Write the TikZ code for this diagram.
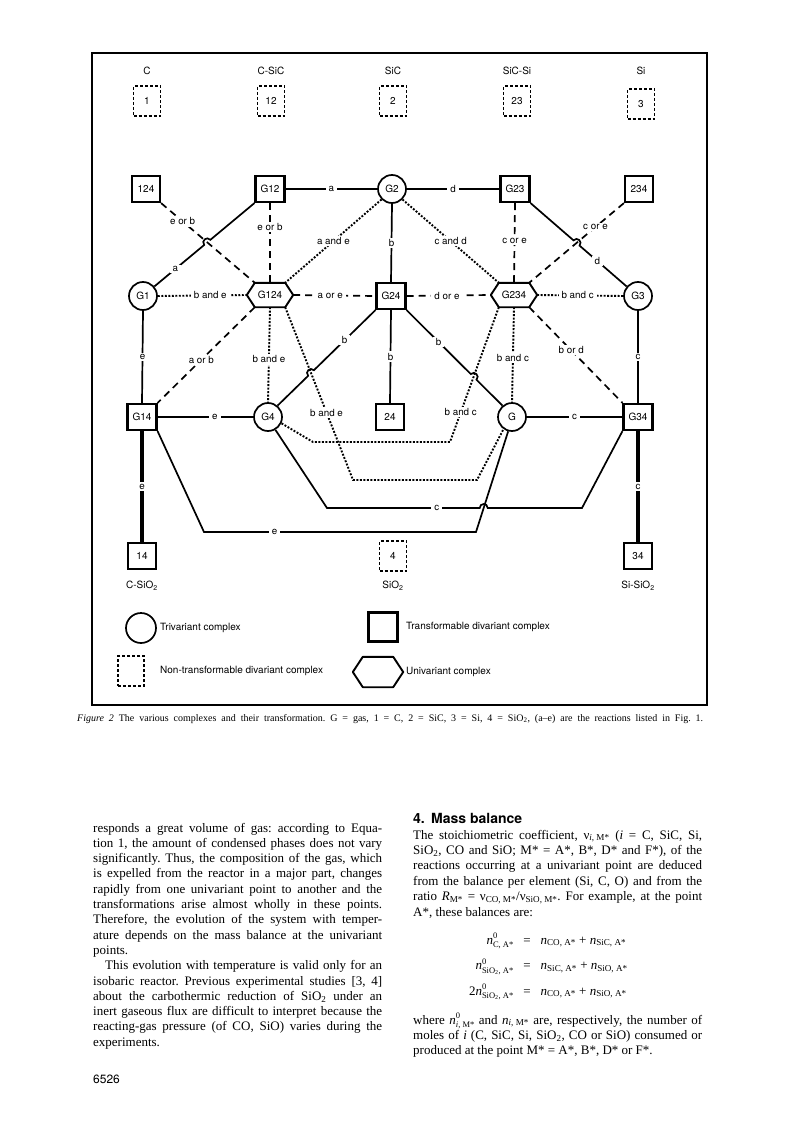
\documentclass[tikz,border=0pt]{standalone}
\usepackage{fontspec}
\setmainfont{Liberation Serif}
\setsansfont{TeX Gyre Heros}
\usetikzlibrary{calc}
\newcommand\justline[1]{\hbox to \hsize{#1}}
\newcommand\smallidx[1]{{\fontsize{8.5}{9}\selectfont #1}}
\newcommand\subsup[2]{\rlap{\raisebox{5.5pt}{\smallidx{#1}}}\raisebox{-3.8pt}{\smallidx{#2}}}
\newcommand\mkhop[5]{%
  \coordinate (#1a) at ($(#1)!4pt!(#2)$);
  \coordinate (#1b) at ($(#1)!4pt!(#3)$);
  \coordinate (#1ac) at ($(#1a)!5.3pt!#4:(#1)$);
  \coordinate (#1bc) at ($(#1b)!5.3pt!#5:(#1)$);}
\newcommand\hexdraw[2]{\draw[hexline] (#1.north west) -- (#1.north east) -- ($(#1.east)+(#2,0)$) -- (#1.south east) -- (#1.south west) -- ($(#1.west)+(-#2,0)$) -- cycle;}
\tikzset{
  dfont/.style={font=\sffamily\fontsize{10}{11}\selectfont},
  lbl/.style={font=\sffamily\fontsize{9.8}{10}\selectfont, fill=white, inner xsep=3pt, inner ysep=1.5pt},
  circ/.style={circle, draw, line width=1.7pt, minimum size=28pt, inner sep=0pt, dfont},
  tbox/.style={rectangle, draw, line width=2.2pt, minimum width=28pt, minimum height=26pt, inner xsep=5pt, dfont},
  ntbox/.style={rectangle, draw, line width=1.9pt, dash pattern=on 3pt off 2pt, minimum width=27pt, minimum height=30pt, dfont},
  hexn/.style={rectangle, minimum width=30pt, minimum height=24pt, inner sep=0pt, dfont},
  hexline/.style={line width=1.9pt, line join=round},
  ttl/.style={dfont},
  sline/.style={line width=1.7pt},
  dline/.style={line width=1.7pt, dash pattern=on 7pt off 5pt},
  oline/.style={line width=1.9pt, dash pattern=on 1.9pt off 1.6pt},
  tline/.style={line width=4pt},
  legtxt/.style={anchor=west, inner sep=0pt, dfont}
}
\begin{document}
\frenchspacing
\begin{tikzpicture}[x=1pt,y=-1pt]
\useasboundingbox (0,0) rectangle (796,1123);
\fill[white] (0,0) rectangle (796,1123);
\draw[line width=2pt] (92,53) rectangle (707,705);

% top row
\node[ttl] (tC) at (147,71) {C};
\node[ttl] (tCSiC) at (271,71) {C-SiC};
\node[ttl] (tSiC) at (393,71) {SiC};
\node[ttl] (tSiCSi) at (517,71) {SiC-Si};
\node[ttl] (tSi) at (641,71) {Si};
\node[ntbox] (n1) at (147,101) {1};
\node[ntbox] (n12) at (271,101) {12};
\node[ntbox] (n2) at (393,101) {2};
\node[ntbox] (n23) at (517,101) {23};
\node[ntbox] (n3) at (641,104) {3};

% row 2
\node[tbox] (b124) at (146,189) {124};
\node[tbox] (G12) at (270,189) {G12};
\node[circ] (G2) at (392,189) {G2};
\node[tbox] (G23) at (515,189) {G23};
\node[tbox] (b234) at (639,189) {234};

% row 3
\node[circ] (G1) at (143,296) {G1};
\node[hexn] (G124) at (270,295) {G124};
\node[tbox] (G24) at (391,296) {G24};
\node[hexn] (G234) at (514,295) {G234};
\node[circ] (G3) at (638,296) {G3};
\hexdraw{G124}{8}
\hexdraw{G234}{8}
\coordinate (G124L) at ($(G124.west)+(-8,0)$);
\coordinate (G124R) at ($(G124.east)+(8,0)$);
\coordinate (G234L) at ($(G234.west)+(-8,0)$);
\coordinate (G234R) at ($(G234.east)+(8,0)$);

% row 4
\node[tbox] (G14) at (142,417) {G14};
\node[circ] (G4) at (268,417) {G4};
\node[tbox] (b24) at (390,417) {24};
\node[circ] (G) at (512,417) {G};
\node[tbox] (G34) at (638,417) {G34};

% row 5
\node[tbox] (b14) at (142,556) {14};
\node[ntbox] (n4) at (393,556) {4};
\node[tbox] (b34) at (638,556) {34};
\node[ttl] (tCSiO) at (142,586) {C-SiO\textsubscript{2}};
\node[ttl] (tSiO) at (393,586) {SiO\textsubscript{2}};
\node[ttl] (tSiSiO) at (638,586) {Si-SiO\textsubscript{2}};

% simple connectors
\draw[sline] (G12.east) -- node[lbl]{a} (G2.west);
\draw[sline] (G2.east) -- node[lbl]{d} (G23.west);
\draw[dline] (G12.south) -- node[lbl,pos=0.3]{e or b} (G124.north);
\draw[oline] (G2.225) -- node[lbl,pos=0.5]{a and e} (G124.north east);
\draw[sline] (G2.south) -- node[lbl]{b} (G24.north);
\draw[oline] (G2.315) -- node[lbl,pos=0.5]{c and d} (G234.north west);
\draw[dline] (G23.south) -- node[lbl,pos=0.47]{c or e} (G234.north);
\draw[oline] (G1.east) -- node[lbl,pos=0.59]{b and e} (G124L);
\draw[dline] (G124R) -- node[lbl,pos=0.45]{a or e} (G24.west);
\draw[dline] (G24.east) -- node[lbl,pos=0.48]{d or e} (G234L);
\draw[oline] (G234R) -- node[lbl,pos=0.47]{b and c} (G3.west);
\draw[sline] (G1.south) -- node[lbl]{e} (G14.north);
\draw[sline] (G3.south) -- node[lbl]{c} (G34.north);
\draw[dline] (G124.south west) -- node[lbl,pos=0.55]{a or b} (G14.north east);
\draw[oline] (G124.south) -- node[lbl,pos=0.55]{b and e} (G4.north);
\draw[oline] (G234.south) -- node[lbl,pos=0.53]{b and c} (G.north);
\draw[dline] (G234.south east) -- node[lbl,pos=0.45]{b or d} (G34.north west);
\draw[sline] (G24.south) -- node[lbl]{b} (b24.north);
\draw[sline] (G14.east) -- node[lbl,pos=0.6]{e} (G4.west);
\draw[sline] (G.east) -- node[lbl]{c} (G34.west);
\draw[tline] (G14.south) -- node[lbl]{e} (b14.north);
\draw[tline] (G34.south) -- node[lbl]{c} (b34.north);

% 124 -> G124 and hop on G12 -> G1
\coordinate (a1) at (b124.south east);
\coordinate (a2) at (G124.north west);
\coordinate (a3) at (G12.south west);
\coordinate (a4) at (G1.40);
\draw[dline] (a1) -- node[lbl,pos=0.23]{e or b} (a2);
\coordinate (X1) at (intersection of a1--a2 and a3--a4);
\mkhop{X1}{a3}{a4}{-90}{90}
\draw[sline] (a3) -- (X1a) .. controls (X1ac) and (X1bc) .. (X1b) -- node[lbl,pos=0.58]{a} (a4);

% 234 -> G234 and hop on G23 -> G3
\coordinate (c1) at (b234.south west);
\coordinate (c2) at (G234.north east);
\coordinate (c3) at (G23.south east);
\coordinate (c4) at (G3.140);
\draw[dline] (c1) -- node[lbl,pos=0.3]{c or e} (c2);
\coordinate (X2) at (intersection of c1--c2 and c3--c4);
\mkhop{X2}{c3}{c4}{90}{-90}
\draw[sline] (c3) -- (X2a) .. controls (X2ac) and (X2bc) .. (X2b) -- node[lbl,pos=0.38]{d} (c4);

% dotted paths
\coordinate (B1) at (353,480);
\coordinate (B2) at (477,480);
\coordinate (A1) at (450,442);
\coordinate (A2) at (313,442);
\coordinate (e1) at (G124.south east);
\coordinate (f1) at (G234.south west);
\draw[oline] (e1) -- node[lbl,pos=0.61]{b and e} (B1) -- (B2) -- (G.235);
\draw[oline] (f1) -- node[lbl,pos=0.78]{b and c} (A1) -- (A2) -- (G4.-25);

% G24 -> G4 with hop
\coordinate (d1) at (G24.south west);
\coordinate (d2) at (G4.50);
\coordinate (X3) at (intersection of d1--d2 and e1--B1);
\mkhop{X3}{d1}{d2}{-90}{90}
\draw[sline] (d1) -- node[lbl,pos=0.5]{b} (X3a) .. controls (X3ac) and (X3bc) .. (X3b) -- (d2);

% G24 -> G with hop
\coordinate (g1) at (G24.south east);
\coordinate (g2) at (G.130);
\coordinate (X4) at (intersection of g1--g2 and f1--A1);
\mkhop{X4}{g1}{g2}{90}{-90}
\draw[sline] (g1) -- node[lbl,pos=0.5]{b} (X4a) .. controls (X4ac) and (X4bc) .. (X4b) -- (g2);

% lower c and e lines
\coordinate (cL) at (327,508);
\coordinate (cR) at (582,508);
\coordinate (eL) at (204,532);
\coordinate (eR) at (476,532);
\coordinate (gE) at (G.255);
\draw[sline] (G14.south east) -- (eL) -- node[lbl,pos=0.26]{e} (eR) -- (gE);
\coordinate (X5) at (intersection of eR--gE and cL--cR);
\mkhop{X5}{cL}{cR}{90}{-90}
\draw[sline] (G4.-60) -- (cL) -- node[lbl,pos=0.72]{c} (X5a) .. controls (X5ac) and (X5bc) .. (X5b) -- (cR) -- (G34.south west);

% legend
\node[circ, minimum size=30pt] (lc) at (141,628) {};
\node[legtxt] (lct) at (160,628) {Trivariant complex};
\node[tbox, minimum width=29pt, minimum height=29pt] (ls) at (383,627) {};
\node[legtxt] (lst) at (406,627) {Transformable divariant complex};
\node[ntbox, minimum width=26pt, minimum height=30pt] (ln) at (131,671) {};
\node[legtxt] (lnt) at (160,671) {Non-transformable divariant complex};
\node[hexn, minimum width=30pt, minimum height=30pt] (lh) at (378,672) {};
\hexdraw{lh}{10}
\node[legtxt] (lht) at (406,672) {Univariant complex};

% caption
\node[anchor=base west, inner sep=0pt] (cap) at (77,721) {\fontsize{10}{12}\selectfont\hbox to 626pt{\textit{Figure 2} The various complexes and their transformation. G = gas, 1 = C, 2 = SiC, 3 = Si, 4 = SiO\textsubscript{2}, (a--e) are the reactions listed in Fig. 1.}};

% left column
\node[anchor=base west, inner sep=0pt] (leftcol) at (93,832) {\parbox[t]{289pt}{\fontsize{13}{15.3}\selectfont
\justline{responds a great volume of gas: according to Equa-}
\justline{tion 1, the amount of condensed phases does not vary}
\justline{significantly. Thus, the composition of the gas, which}
\justline{is expelled from the reactor in a major part, changes}
\justline{rapidly from one univariant point to another and the}
\justline{transformations arise almost wholly in these points.}
\justline{Therefore, the evolution of the system with temper-}
\justline{ature depends on the mass balance at the univariant}
\hbox{points.}
\justline{\hspace*{12pt}This evolution with temperature is valid only for an}
\justline{isobaric reactor. Previous experimental studies [3, 4]}
\justline{about the carbothermic reduction of SiO\textsubscript{2} under an}
\justline{inert gaseous flux are difficult to interpret because the}
\justline{reacting-gas pressure (of CO, SiO) varies during the}
\hbox{experiments.}}};

\node[anchor=base west, inner sep=0pt] (pg) at (93,1083) {\sffamily\fontsize{12}{14}\selectfont 6526};

% right column
\node[anchor=base west, inner sep=0pt] (head) at (413,823) {\sffamily\bfseries\fontsize{14}{16}\selectfont 4.\hspace{0.45em}Mass balance};
\node[anchor=base west, inner sep=0pt] (rightcol1) at (413,839) {\parbox[t]{289pt}{\fontsize{13}{15.4}\selectfont
\justline{The stoichiometric coefficient, ν\textsubscript{\textit{i}, M*} (\textit{i} = C, SiC, Si,}
\justline{SiO\textsubscript{2}, CO and SiO; M* = A*, B*, D* and F*), of the}
\justline{reactions occurring at a univariant point are deduced}
\justline{from the balance per element (Si, C, O) and from the}
\justline{ratio \textit{R}\textsubscript{M*} = ν\textsubscript{CO, M*}/ν\textsubscript{SiO, M*}. For example, at the point}
\hbox{A*, these balances are:}}};
\node[anchor=base, inner sep=0pt] (eq1) at (527,944) {\fontsize{13}{15}\selectfont\llap{\textit{n}\subsup{0}{C, A*}\hspace{10pt}}=\rlap{\hspace{10pt}\textit{n}\textsubscript{CO, A*} + \textit{n}\textsubscript{SiC, A*}}};
\node[anchor=base, inner sep=0pt] (eq2) at (527,969.5) {\fontsize{13}{15}\selectfont\llap{\textit{n}\subsup{0}{SiO\textsubscript{2}, A*}\hspace{10pt}}=\rlap{\hspace{10pt}\textit{n}\textsubscript{SiC, A*} + \textit{n}\textsubscript{SiO, A*}}};
\node[anchor=base, inner sep=0pt] (eq3) at (527,995) {\fontsize{13}{15}\selectfont\llap{2\textit{n}\subsup{0}{SiO\textsubscript{2}, A*}\hspace{10pt}}=\rlap{\hspace{10pt}\textit{n}\textsubscript{CO, A*} + \textit{n}\textsubscript{SiO, A*}}};
\node[anchor=base west, inner sep=0pt] (rightcol2) at (413,1024) {\parbox[t]{289pt}{\fontsize{13}{15.4}\selectfont
\justline{where \textit{n}\subsup{0}{\textit{i}, M*} and \textit{n}\textsubscript{\textit{i}, M*} are, respectively, the number of}
\justline{moles of \textit{i} (C, SiC, Si, SiO\textsubscript{2}, CO or SiO) consumed or}
\hbox{produced at the point M* = A*, B*, D* or F*.}}};
\end{tikzpicture}
\end{document}
